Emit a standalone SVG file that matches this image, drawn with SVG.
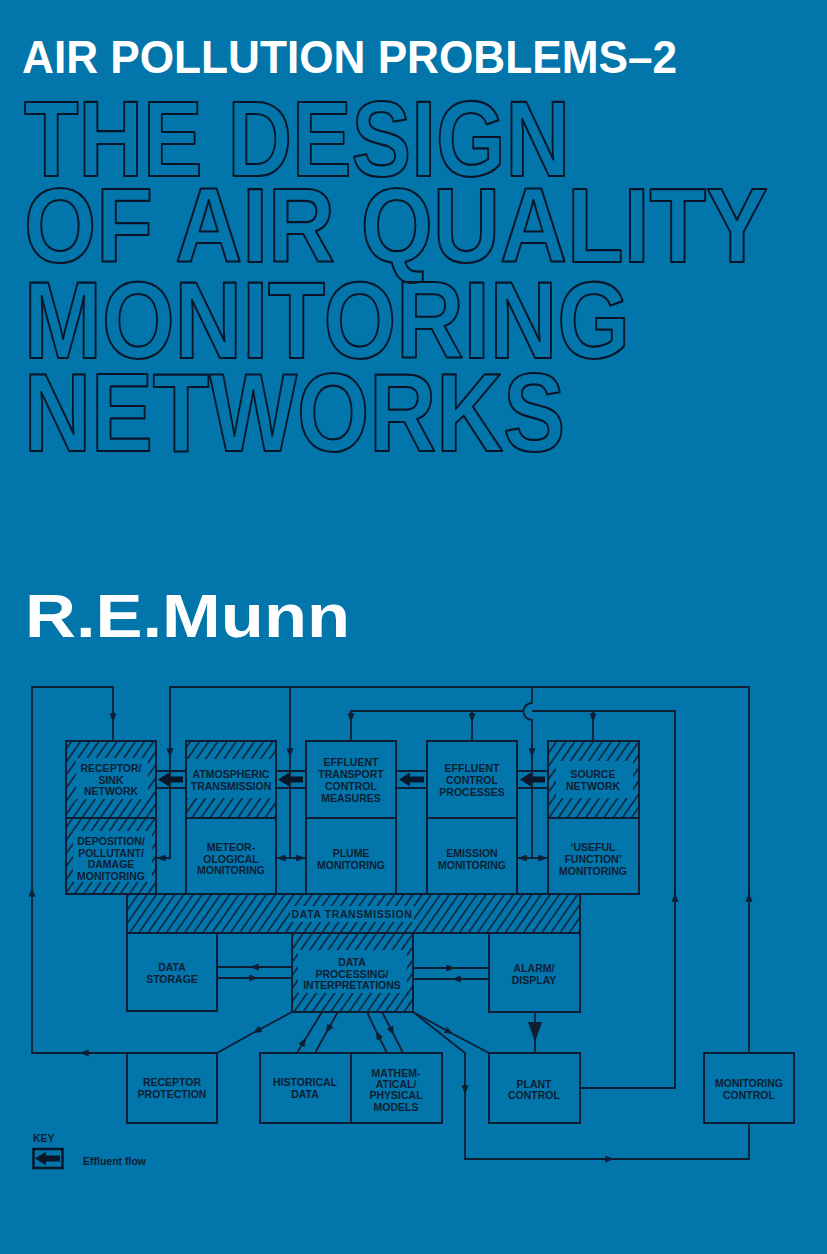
<svg xmlns="http://www.w3.org/2000/svg" width="827" height="1254" viewBox="0 0 827 1254">
<defs>
<style>
.bx{fill:none;stroke:#0f1e33;stroke-width:2}
.ln{fill:none;stroke:#0f1e33;stroke-width:1.8}
.ar{marker-end:url(#a)}
.clr{fill:#0275ab}
.hat{fill:url(#h)}
.lbl{font-family:"Liberation Sans",Arial,sans-serif;font-weight:bold;font-size:10.5px;fill:#0f1e33;text-anchor:middle}
.ttl{font-family:"Liberation Sans",Arial,sans-serif;font-weight:bold;fill:none;stroke:#0a1628;stroke-width:2.2;stroke-linejoin:round}
.wt{font-family:"Liberation Sans",Arial,sans-serif;font-weight:bold;fill:#ffffff}
</style>
<pattern id="h" patternUnits="userSpaceOnUse" width="7.5" height="10" patternTransform="rotate(35)">
<line x1="3.75" y1="-1" x2="3.75" y2="11" stroke="#0f1e33" stroke-width="1.5"/>
</pattern>
<marker id="a" viewBox="0 0 10 8" refX="10" refY="4" markerWidth="9" markerHeight="7" markerUnits="userSpaceOnUse" orient="auto">
<path d="M0,0 L10,4 L0,8 z" fill="#0f1e33"/>
</marker>
<path id="ef" d="M0,0 L11,-7 L11,-3 L25,-3 L25,3 L11,3 L11,7 z" fill="#0a1628"/>
</defs>

<rect x="0" y="0" width="827" height="1254" fill="#0275ab"/>

<g id="title">
<text class="wt" x="22" y="73" font-size="46" textLength="655" lengthAdjust="spacingAndGlyphs">AIR POLLUTION PROBLEMS–2</text>
<text class="ttl" x="24" y="176" font-size="108" textLength="546" lengthAdjust="spacingAndGlyphs">THE DESIGN</text>
<text class="ttl" x="24" y="262" font-size="106" textLength="744" lengthAdjust="spacingAndGlyphs">OF AIR QUALITY</text>
<text class="ttl" x="24" y="358" font-size="110" textLength="606" lengthAdjust="spacingAndGlyphs">MONITORING</text>
<text class="ttl" x="24" y="451" font-size="112" textLength="541" lengthAdjust="spacingAndGlyphs">NETWORKS</text>
<text class="wt" x="25" y="637" font-size="62" textLength="325" lengthAdjust="spacingAndGlyphs">R.E.Munn</text>
</g>

<g id="connectors">
<!-- receptor protection loop -->
<path class="ln ar" d="M292,1012 L253,1033"/>
<path class="ln" d="M253,1033 L217,1053"/>
<path class="ln ar" d="M217,1053 H80"/>
<path class="ln ar" d="M80,1053 H32 V888"/>
<path class="ln ar" d="M32,888 V687 H113 V722"/>
<path class="ln" d="M113,722 V741"/>
<!-- monitoring control loop -->
<path class="ln ar" d="M749,1053 V893"/>
<path class="ln ar" d="M749,893 V687 H170 V757"/>
<path class="ln ar" d="M170,757 V858 H157"/>
<path class="ln ar" d="M290,687 V757"/>
<path class="ln" d="M290,757 V858"/>
<path class="ln ar" d="M290,858 H277"/>
<path class="ln ar" d="M290,858 H305"/>
<path class="ln ar" d="M532,687 V703 A8.5,8.5 0 0 0 532,720 V757"/>
<path class="ln" d="M532,757 V858"/>
<path class="ln ar" d="M532,858 H518"/>
<path class="ln ar" d="M532,858 H547"/>
<!-- plant control loop -->
<path class="ln ar" d="M580,1088 H675 V893"/>
<path class="ln" d="M675,893 V711 H532"/>
<path class="ln ar" d="M523.5,711 H351 V722"/>
<path class="ln" d="M351,722 V741"/>
<path class="ln ar" d="M472,711 V722"/>
<path class="ln" d="M472,722 V741"/>
<path class="ln ar" d="M593,711 V722"/>
<path class="ln" d="M593,722 V741"/>
<!-- effluent channels -->
<path class="ln" d="M156,771 H186 M156,788 H186 M276,771 H306 M276,788 H306 M396,771 H427 M396,788 H427 M517,771 H548 M517,788 H548"/>
<use href="#ef" x="158" y="779.5"/>
<use href="#ef" x="278" y="779.5"/>
<use href="#ef" x="399" y="779.5"/>
<use href="#ef" x="520" y="779.5"/>
<!-- storage / processing / alarm -->
<path class="ln ar" d="M292,967 H250"/>
<path class="ln" d="M250,967 H217"/>
<path class="ln ar" d="M217,978 H258"/>
<path class="ln" d="M258,978 H292"/>
<path class="ln ar" d="M413,968 H455"/>
<path class="ln" d="M455,968 H489"/>
<path class="ln ar" d="M489,979 H452"/>
<path class="ln" d="M452,979 H413"/>
<!-- alarm to plant -->
<path class="ln" d="M535,1012 V1053"/>
<path d="M528,1022 L542,1022 L535,1042 z" fill="#0f1e33"/>
<!-- historical / models -->
<path class="ln ar" d="M297,1053 L306,1038"/>
<path class="ln" d="M306,1038 L322,1012"/>
<path class="ln ar" d="M338,1012 L326,1033"/>
<path class="ln" d="M326,1033 L315,1053"/>
<path class="ln ar" d="M387,1053 L376,1031"/>
<path class="ln" d="M376,1031 L367,1012"/>
<path class="ln ar" d="M382,1012 L394,1035"/>
<path class="ln" d="M394,1035 L403,1053"/>
<!-- to plant control and monitoring control -->
<path class="ln ar" d="M413,1012 L453,1034"/>
<path class="ln" d="M453,1034 L489,1053"/>
<path class="ln ar" d="M413,1012 L465,1053 V1094"/>
<path class="ln ar" d="M465,1094 V1159 H614"/>
<path class="ln" d="M614,1159 H749 V1123"/>
</g>

<g id="receptor-sink">
<rect class="hat" x="66" y="741" width="90" height="77"/>
<rect class="clr" x="76" y="758" width="72" height="41"/>
<rect class="bx" x="66" y="741" width="90" height="77"/>
<text class="lbl"><tspan x="111" y="772">RECEPTOR/</tspan><tspan x="111" y="783.5">SINK</tspan><tspan x="111" y="795">NETWORK</tspan></text>
</g>
<g id="deposition">
<rect class="hat" x="66" y="818" width="90" height="76"/>
<rect class="clr" x="73" y="831" width="79" height="51"/>
<rect class="bx" x="66" y="818" width="90" height="76"/>
<text class="lbl"><tspan x="111" y="845">DEPOSITION/</tspan><tspan x="111" y="856.5">POLLUTANT/</tspan><tspan x="111" y="868">DAMAGE</tspan><tspan x="111" y="879.5">MONITORING</tspan></text>
</g>
<g id="atmospheric">
<rect class="hat" x="186" y="741" width="90" height="77"/>
<rect class="clr" x="187" y="759" width="88" height="39"/>
<rect class="bx" x="186" y="741" width="90" height="77"/>
<text class="lbl"><tspan x="231" y="778">ATMOSPHERIC</tspan><tspan x="231" y="790">TRANSMISSION</tspan></text>
</g>
<g id="meteorological">
<rect class="bx" x="186" y="818" width="90" height="76"/>
<text class="lbl"><tspan x="231" y="851">METEOR-</tspan><tspan x="231" y="862.5">OLOGICAL</tspan><tspan x="231" y="874">MONITORING</tspan></text>
</g>
<g id="effluent-transport">
<rect class="bx" x="306" y="741" width="90" height="77"/>
<text class="lbl"><tspan x="351" y="766">EFFLUENT</tspan><tspan x="351" y="778">TRANSPORT</tspan><tspan x="351" y="790">CONTROL</tspan><tspan x="351" y="801.5">MEASURES</tspan></text>
</g>
<g id="plume">
<rect class="bx" x="306" y="818" width="90" height="76"/>
<text class="lbl"><tspan x="351" y="857">PLUME</tspan><tspan x="351" y="868.5">MONITORING</tspan></text>
</g>
<g id="effluent-control">
<rect class="bx" x="427" y="741" width="90" height="77"/>
<text class="lbl"><tspan x="472" y="772">EFFLUENT</tspan><tspan x="472" y="784">CONTROL</tspan><tspan x="472" y="795.5">PROCESSES</tspan></text>
</g>
<g id="emission">
<rect class="bx" x="427" y="818" width="90" height="76"/>
<text class="lbl"><tspan x="472" y="857">EMISSION</tspan><tspan x="472" y="868.5">MONITORING</tspan></text>
</g>
<g id="source">
<rect class="hat" x="548" y="741" width="91" height="77"/>
<rect class="clr" x="556" y="761" width="77" height="37"/>
<rect class="bx" x="548" y="741" width="91" height="77"/>
<text class="lbl"><tspan x="593" y="778">SOURCE</tspan><tspan x="593" y="790">NETWORK</tspan></text>
</g>
<g id="useful-function">
<rect class="bx" x="548" y="818" width="91" height="76"/>
<text class="lbl"><tspan x="593" y="851">‘USEFUL</tspan><tspan x="593" y="863">FUNCTION’</tspan><tspan x="593" y="875">MONITORING</tspan></text>
</g>
<g id="data-transmission">
<rect class="hat" x="127" y="894" width="453" height="39"/>
<rect class="clr" x="290" y="906" width="124" height="16"/>
<rect class="bx" x="127" y="894" width="453" height="39"/>
<text class="lbl" x="352" y="918" letter-spacing="0.6">DATA TRANSMISSION</text>
</g>
<g id="data-storage">
<rect class="bx" x="127" y="933" width="90" height="78"/>
<text class="lbl"><tspan x="172" y="971">DATA</tspan><tspan x="172" y="982.5">STORAGE</tspan></text>
</g>
<g id="data-processing">
<rect class="hat" x="292" y="933" width="121" height="79"/>
<rect class="clr" x="298" y="950" width="109" height="43"/>
<rect class="bx" x="292" y="933" width="121" height="79"/>
<text class="lbl"><tspan x="352" y="966">DATA</tspan><tspan x="352" y="977.5">PROCESSING/</tspan><tspan x="352" y="989">INTERPRETATIONS</tspan></text>
</g>
<g id="alarm">
<rect class="bx" x="489" y="933" width="91" height="79"/>
<text class="lbl"><tspan x="534" y="972">ALARM/</tspan><tspan x="534" y="983.5">DISPLAY</tspan></text>
</g>
<g id="receptor-protection">
<rect class="bx" x="127" y="1053" width="90" height="70"/>
<text class="lbl"><tspan x="172" y="1086">RECEPTOR</tspan><tspan x="172" y="1097.5">PROTECTION</tspan></text>
</g>
<g id="historical">
<rect class="bx" x="260" y="1053" width="91" height="70"/>
<text class="lbl"><tspan x="305" y="1086">HISTORICAL</tspan><tspan x="305" y="1097.5">DATA</tspan></text>
</g>
<g id="models">
<rect class="bx" x="351" y="1053" width="91" height="70"/>
<text class="lbl"><tspan x="396" y="1077">MATHEM-</tspan><tspan x="396" y="1088">ATICAL/</tspan><tspan x="396" y="1099">PHYSICAL</tspan><tspan x="396" y="1110.5">MODELS</tspan></text>
</g>
<g id="plant-control">
<rect class="bx" x="489" y="1053" width="91" height="70"/>
<text class="lbl"><tspan x="534" y="1087.5">PLANT</tspan><tspan x="534" y="1099">CONTROL</tspan></text>
</g>
<g id="monitoring-control">
<rect class="bx" x="704" y="1053" width="90" height="70"/>
<text class="lbl"><tspan x="749" y="1087">MONITORING</tspan><tspan x="749" y="1098.5">CONTROL</tspan></text>
</g>

<g id="key">
<text class="lbl" x="33" y="1142" font-size="8.5" style="text-anchor:start">KEY</text>
<rect x="33.5" y="1149" width="29" height="19" fill="none" stroke="#0a1628" stroke-width="2.5"/>
<use href="#ef" x="35" y="1158.5"/>
<text class="lbl" x="83" y="1164.5" font-size="10" style="text-anchor:start">Effluent flow</text>
</g>
</svg>
